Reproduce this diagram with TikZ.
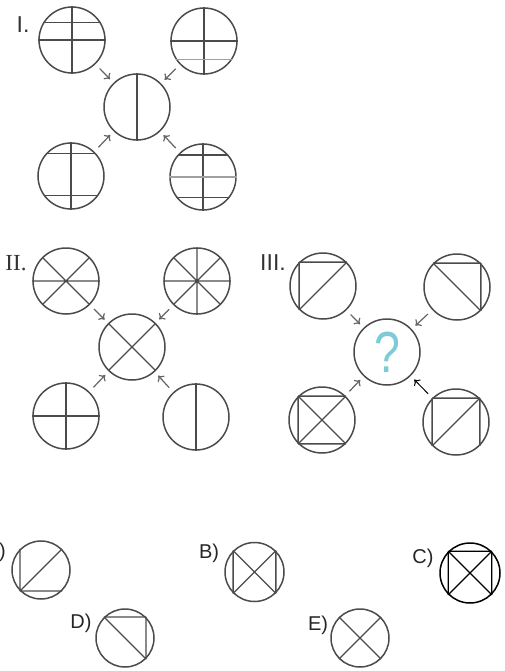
\documentclass[tikz,border=0pt]{standalone}
\usepackage{fontspec}
\setmainfont{Liberation Sans}
\newfontfamily\romanlabel{Liberation Serif}
\usepackage{tikz}
\usetikzlibrary{arrows.meta}
\definecolor{linegray}{RGB}{75,75,75}
\definecolor{litegray}{RGB}{160,160,160}
\definecolor{arrgray}{RGB}{100,100,100}
\definecolor{qcyan}{RGB}{125,203,214}

\begin{document}
\begin{tikzpicture}[x=1pt,y=-1pt,
  ring/.style={circle,draw=linegray,line width=1.5pt,minimum size=66pt,inner sep=0pt},
  small/.style={ring,minimum size=58pt},
  seg/.style={draw=linegray,line width=1.3pt},
  lite/.style={draw=litegray},
  arr/.style={draw=arrgray,line width=1.2pt,-{To[length=5pt,width=9pt]},shorten <=6pt,shorten >=5pt},
  lab/.style={font=\fontsize{23}{23}\selectfont,text=black!80,inner sep=0pt},
  anslab/.style={font=\fontsize{20}{20}\selectfont,text=black!85,inner sep=0pt}]
  \useasboundingbox (0,0) rectangle (504,671);

  \node[lab] (t1) at (23,25) {I.};
  \node[ring] (i1) at (72,40) {};
  \node[ring] (i2) at (204,41) {};
  \node[ring] (c1) at (137,107) {};
  \node[ring] (i3) at (71,176) {};
  \node[ring] (i4) at (203,177) {};
  \draw[seg] (i1.north) -- (i1.south) (i1.west) -- (i1.east) (i1.149) -- (i1.31);
  \draw[seg] (i2.north) -- (i2.south) (i2.west) -- (i2.east);
  \draw[seg,lite] (i2.213) -- (i2.327);
  \draw[seg] (c1.north) -- (c1.south);
  \draw[seg] (i3.north) -- (i3.south) (i3.138) -- (i3.42) (i3.216) -- (i3.324);
  \draw[seg] (i4.north) -- (i4.south) (i4.139) -- (i4.41) (i4.217) -- (i4.323);
  \draw[seg,lite] (i4.west) -- (i4.east);
  \draw[arr] (i1) -- (c1);
  \draw[arr] (i2) -- (c1);
  \draw[arr] (i3) -- (c1);
  \draw[arr] (i4) -- (c1);

  \node[lab,font=\romanlabel\fontsize{23}{23}\selectfont] (t2) at (16,263) {II.};
  \node[ring] (j1) at (66,281) {};
  \node[ring] (j2) at (197,281) {};
  \node[ring] (c2) at (132,347) {};
  \node[ring] (j3) at (66,416) {};
  \node[ring] (j4) at (196,417) {};
  \draw[seg] (j1.west) -- (j1.east) (j1.45) -- (j1.225) (j1.135) -- (j1.315);
  \draw[seg] (j2.north) -- (j2.south) (j2.west) -- (j2.east) (j2.45) -- (j2.225) (j2.135) -- (j2.315);
  \draw[seg] (c2.45) -- (c2.225) (c2.135) -- (c2.315);
  \draw[seg] (j3.north) -- (j3.south) (j3.west) -- (j3.east);
  \draw[seg] (j4.north) -- (j4.south);
  \draw[arr] (j1) -- (c2);
  \draw[arr] (j2) -- (c2);
  \draw[arr] (j3) -- (c2);
  \draw[arr] (j4) -- (c2);

  \node[lab] (t3) at (273,263) {III.};
  \node[ring] (k1) at (323,286) {};
  \node[ring] (k2) at (457,287) {};
  \node[ring,text=qcyan,font=\fontsize{58}{58}\selectfont] (c3) at (387,352) {\scalebox{0.8}[1]{?}};
  \node[ring] (k3) at (322,420) {};
  \node[ring] (k4) at (456,422) {};
  \draw[seg] (k1.135) -- (k1.45) (k1.135) -- (k1.225) (k1.45) -- (k1.225);
  \draw[seg] (k2.135) -- (k2.45) (k2.45) -- (k2.315) (k2.135) -- (k2.315);
  \draw[seg] (k3.135) -- (k3.45) (k3.135) -- (k3.225) (k3.225) -- (k3.315) (k3.45) -- (k3.225) (k3.135) -- (k3.315);
  \draw[seg] (k4.135) -- (k4.45) (k4.135) -- (k4.225) (k4.45) -- (k4.315) (k4.225) -- (k4.45);
  \draw[arr] (k1) -- (c3);
  \draw[arr] (k2) -- (c3);
  \draw[arr] (k3) -- (c3);
  \draw[arr,draw=black,line width=1pt] (k4) -- (c3);

  \node[anslab,anchor=east] (la) at (6,552) {A)};
  \node[small] (ansA) at (41,570) {};
  \draw[seg] (ansA.135) -- (ansA.225) (ansA.225) -- (ansA.315) (ansA.225) -- (ansA.45);
  \node[anslab] (lb) at (209,553) {B)};
  \node[small,minimum size=59pt] (ansB) at (254.5,572) {};
  \draw[seg] (ansB.135) -- (ansB.225) (ansB.45) -- (ansB.315) (ansB.45) -- (ansB.225) (ansB.135) -- (ansB.315);
  \node[anslab] (lc) at (423,558) {C)};
  \node[small,minimum size=60pt,draw=black] (ansC) at (470,573) {};
  \draw[seg,draw=black] (ansC.135) -- (ansC.45) (ansC.135) -- (ansC.225) (ansC.45) -- (ansC.315) (ansC.45) -- (ansC.225) (ansC.135) -- (ansC.315);
  \node[anslab] (ld) at (81,623) {D)};
  \node[small] (ansD) at (125,638) {};
  \draw[seg] (ansD.135) -- (ansD.45) (ansD.45) -- (ansD.315) (ansD.135) -- (ansD.315);
  \node[anslab] (le) at (318,625) {E)};
  \node[small] (ansE) at (360,638) {};
  \draw[seg] (ansE.45) -- (ansE.225) (ansE.135) -- (ansE.315);
\end{tikzpicture}
\end{document}
